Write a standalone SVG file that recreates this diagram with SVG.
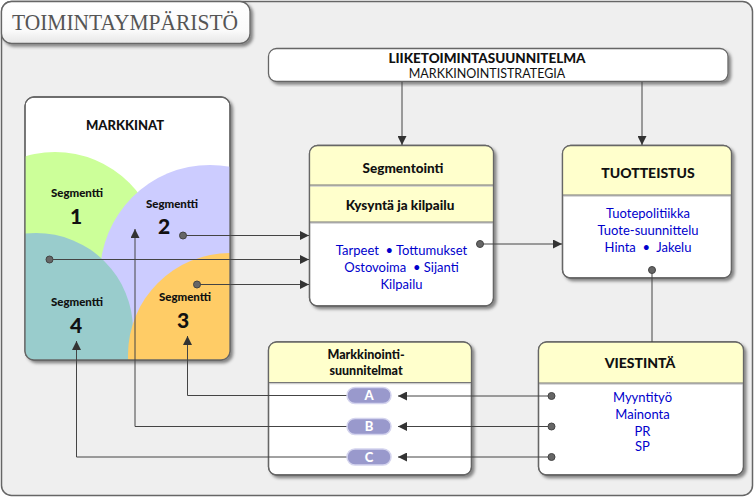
<svg xmlns="http://www.w3.org/2000/svg" width="754" height="497" viewBox="0 0 754 497">
<defs>
<filter id="sh" x="-10%" y="-10%" width="125%" height="125%">
<feDropShadow dx="2.5" dy="2.5" stdDeviation="1.5" flood-color="#000" flood-opacity="0.45"/>
</filter>
<linearGradient id="tabg" x1="0" y1="0" x2="0" y2="1">
<stop offset="0" stop-color="#ffffff"/>
<stop offset="0.7" stop-color="#fafafa"/>
<stop offset="1" stop-color="#e6e6e6"/>
</linearGradient>
<clipPath id="mclip"><rect x="25" y="97" width="205" height="263" rx="9"/></clipPath>
<marker id="arr" viewBox="0 0 10 10" refX="10" refY="5" markerWidth="9" markerHeight="9" markerUnits="userSpaceOnUse" orient="auto">
<path d="M0,0 L10,5 L0,10 z" fill="#333"/>
</marker>
<style>
.box{fill:#fff;stroke:#666;stroke-width:1.3}
.hdr{fill:#ffffcc}
.sep{stroke:#777;stroke-width:1.2}
.sep2{stroke:#ccc;stroke-width:1.5}
.b{font-family:Lato,'Open Sans',sans-serif;font-weight:900;fill:#111;text-anchor:middle}
.bl{font-family:Lato,'Open Sans',sans-serif;fill:#0000cc;font-size:13px;text-anchor:middle}
.c{fill:none;stroke:#444;stroke-width:1}
.dot{fill:#666;stroke:#444;stroke-width:1}
.pill{fill:#9999cc;stroke:#d4d4ee;stroke-width:1.5}
.pt{font-family:Lato,'Open Sans',sans-serif;font-weight:900;fill:#fff;font-size:13px;text-anchor:middle}
</style>
</defs>

<g id="frame">
<rect x="1.5" y="1.5" width="751" height="494" rx="10" fill="#efefef" stroke="#666" stroke-width="1.5"/>
<rect x="1.5" y="1.5" width="248.5" height="42" rx="10" fill="url(#tabg)" stroke="#666" stroke-width="1.3" filter="url(#sh)"/>
<text x="12" y="30" font-family="'Liberation Serif',serif" font-size="24" fill="#555" textLength="226" lengthAdjust="spacingAndGlyphs">TOIMINTAYMPÄRISTÖ</text>
</g>

<g id="markkinat">
<rect x="25" y="97" width="205" height="263" rx="9" class="box" filter="url(#sh)"/>
<g clip-path="url(#mclip)">
<circle cx="55" cy="257" r="105" fill="#ccff99"/>
<circle cx="210" cy="275" r="110" fill="#ccccff"/>
<circle cx="36" cy="330" r="97" fill="#99cccc"/>
<circle cx="230" cy="355" r="102" fill="#ffcc66"/>
</g>
<rect x="25" y="97" width="205" height="263" rx="9" fill="none" stroke="#666" stroke-width="1.3"/>
<text x="125" y="130" class="b" font-size="13">MARKKINAT</text>
<text x="77" y="196.5" class="b" font-size="11.5">Segmentti</text>
<text x="76" y="224" class="b" font-size="21">1</text>
<text x="172" y="208" class="b" font-size="11.5">Segmentti</text>
<text x="164" y="233.5" class="b" font-size="21">2</text>
<text x="185" y="300.5" class="b" font-size="11.5">Segmentti</text>
<text x="183" y="328" class="b" font-size="21">3</text>
<text x="77" y="306" class="b" font-size="11.5">Segmentti</text>
<text x="76" y="333" class="b" font-size="21">4</text>
</g>

<g id="liiketoiminta">
<rect x="268.5" y="48.5" width="459.5" height="33" rx="8" class="box" filter="url(#sh)"/>
<text x="487" y="62.5" class="b" font-size="13.5">LIIKETOIMINTASUUNNITELMA</text>
<text x="487" y="77.5" font-family="Lato,'Open Sans',sans-serif" font-size="12.5" fill="#111" text-anchor="middle">MARKKINOINTISTRATEGIA</text>
</g>

<g id="segmentointi">
<rect x="309.5" y="145.5" width="184" height="160.5" rx="8" class="box" filter="url(#sh)"/>
<path d="M309.5,185 V153.5 a8,8 0 0 1 8,-8 H485.5 a8,8 0 0 1 8,8 V185 z" class="hdr"/>
<rect x="309.5" y="185" width="184" height="37" class="hdr"/>
<line x1="309.5" y1="186" x2="493.5" y2="186" class="sep2"/>
<line x1="309.5" y1="223" x2="493.5" y2="223" class="sep2"/>
<line x1="309.5" y1="185" x2="493.5" y2="185" class="sep"/>
<line x1="309.5" y1="222" x2="493.5" y2="222" class="sep"/>
<rect x="309.5" y="145.5" width="184" height="160.5" rx="8" fill="none" stroke="#666" stroke-width="1.3"/>
<text x="403" y="172.5" class="b" font-size="13.5">Segmentointi</text>
<text x="400" y="209.5" class="b" font-size="13.5">Kysyntä ja kilpailu</text>
<text x="401.5" y="254.5" class="bl">Tarpeet&#160; • Tottumukset</text>
<text x="401.5" y="271.5" class="bl">Ostovoima&#160; • Sijanti</text>
<text x="401.5" y="288.5" class="bl">Kilpailu</text>
</g>

<g id="tuotteistus">
<rect x="562.5" y="145.5" width="169" height="132.5" rx="8" class="box" filter="url(#sh)"/>
<path d="M562.5,195 V153.5 a8,8 0 0 1 8,-8 H723.5 a8,8 0 0 1 8,8 V195 z" class="hdr"/>
<line x1="562.5" y1="196" x2="731.5" y2="196" class="sep2"/>
<line x1="562.5" y1="195" x2="731.5" y2="195" class="sep"/>
<rect x="562.5" y="145.5" width="169" height="132.5" rx="8" fill="none" stroke="#666" stroke-width="1.3"/>
<text x="648" y="177.5" class="b" font-size="14">TUOTTEISTUS</text>
<text x="648" y="217.5" class="bl">Tuotepolitiikka</text>
<text x="648" y="234.5" class="bl">Tuote-suunnittelu</text>
<text x="648" y="251.5" class="bl">Hinta&#160; •&#160; Jakelu</text>
</g>

<g id="markkinointisuunnitelmat">
<rect x="268.5" y="342" width="203" height="133" rx="8" class="box" filter="url(#sh)"/>
<path d="M268.5,382.5 V350 a8,8 0 0 1 8,-8 H463.5 a8,8 0 0 1 8,8 V382.5 z" class="hdr"/>
<line x1="268.5" y1="383.5" x2="471.5" y2="383.5" class="sep2"/>
<line x1="268.5" y1="382.5" x2="471.5" y2="382.5" class="sep"/>
<rect x="268.5" y="342" width="203" height="133" rx="8" fill="none" stroke="#666" stroke-width="1.3"/>
<text x="366" y="359" class="b" font-size="12.5">Markkinointi-</text>
<text x="366" y="374.5" class="b" font-size="12.5">suunnitelmat</text>
</g>

<g id="viestinta">
<rect x="538.5" y="342" width="205" height="133" rx="8" class="box" filter="url(#sh)"/>
<path d="M538.5,383 V350 a8,8 0 0 1 8,-8 H735.5 a8,8 0 0 1 8,8 V383 z" class="hdr"/>
<line x1="538.5" y1="384" x2="743.5" y2="384" class="sep2"/>
<line x1="538.5" y1="383" x2="743.5" y2="383" class="sep"/>
<rect x="538.5" y="342" width="205" height="133" rx="8" fill="none" stroke="#666" stroke-width="1.3"/>
<text x="640" y="368" class="b" font-size="14">VIESTINTÄ</text>
<text x="642.5" y="401.5" class="bl">Myyntityö</text>
<text x="642.5" y="419" class="bl">Mainonta</text>
<text x="642.5" y="436" class="bl">PR</text>
<text x="642.5" y="451" class="bl">SP</text>
</g>

<g id="connectors">
<path d="M402,82 V145" class="c" marker-end="url(#arr)"/>
<path d="M642,82 V145" class="c" marker-end="url(#arr)"/>
<path d="M183,235.5 H309" class="c" marker-end="url(#arr)"/>
<path d="M49.5,259.5 H309" class="c" marker-end="url(#arr)"/>
<path d="M197,284.5 H309" class="c" marker-end="url(#arr)"/>
<path d="M480,244 H562" class="c" marker-end="url(#arr)"/>
<path d="M652,270 V342" class="c"/>
<path d="M551.5,396 H398" class="c" marker-end="url(#arr)"/>
<path d="M551.5,426.5 H398" class="c" marker-end="url(#arr)"/>
<path d="M551.5,457 H398" class="c" marker-end="url(#arr)"/>
<path d="M347,395.5 H187.5 V336" class="c" marker-end="url(#arr)"/>
<path d="M347,426.5 H135 V229" class="c" marker-end="url(#arr)"/>
<path d="M347,457 H76.5 V341" class="c" marker-end="url(#arr)"/>
<circle cx="183" cy="235.5" r="3.5" class="dot"/>
<circle cx="49.5" cy="259.5" r="3.5" class="dot"/>
<circle cx="197" cy="284.5" r="3.5" class="dot"/>
<circle cx="480" cy="244" r="3.5" class="dot"/>
<circle cx="652" cy="270" r="3.5" class="dot"/>
<circle cx="551.5" cy="396" r="3.5" class="dot"/>
<circle cx="551.5" cy="426.5" r="3.5" class="dot"/>
<circle cx="551.5" cy="457" r="3.5" class="dot"/>
</g>

<g id="pills">
<rect x="347" y="387.5" width="44" height="16" rx="8" class="pill"/>
<text x="369" y="400" class="pt">A</text>
<rect x="347" y="418.5" width="44" height="16" rx="8" class="pill"/>
<text x="369" y="431" class="pt">B</text>
<rect x="347" y="449" width="44" height="16" rx="8" class="pill"/>
<text x="369" y="461.5" class="pt">C</text>
</g>
</svg>
